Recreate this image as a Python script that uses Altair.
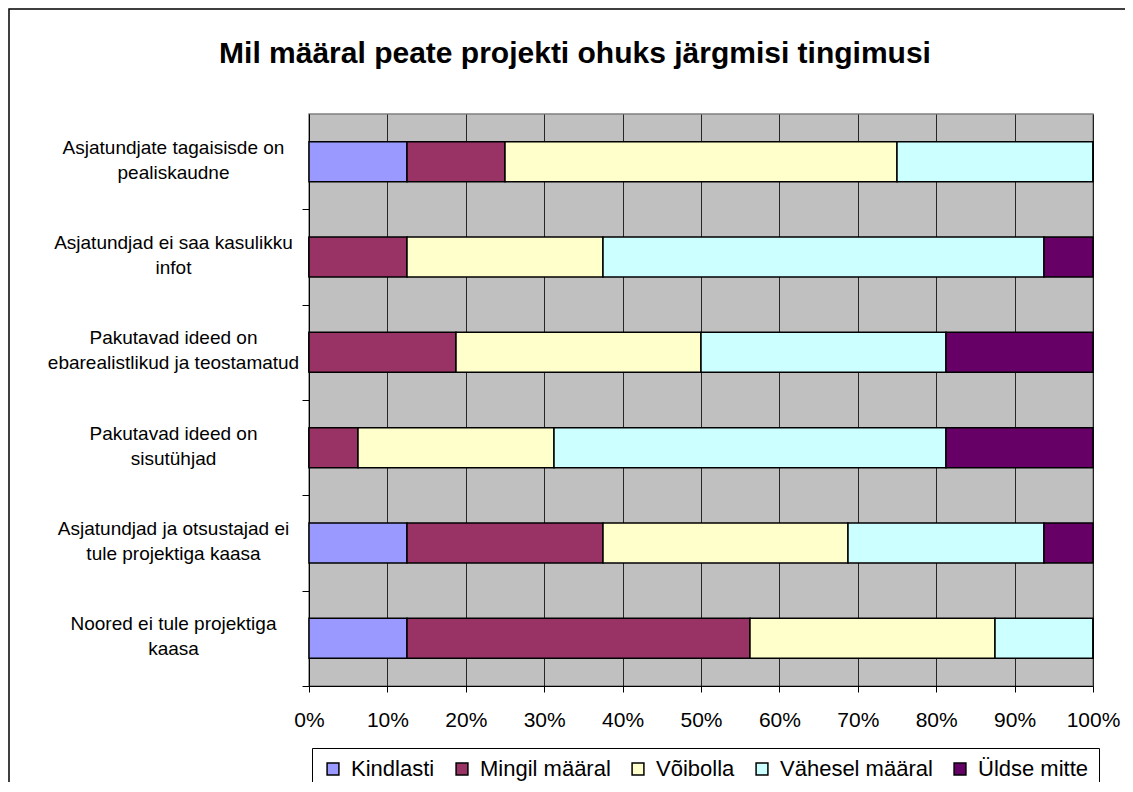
import altair as alt
import pandas as pd

title_text = "Mil määral peate projekti ohuks järgmisi tingimusi"
categories = [
    "Asjatundjate tagaisisde on\npealiskaudne",
    "Asjatundjad ei saa kasulikku\ninfot",
    "Pakutavad ideed on\nebarealistlikud ja teostamatud",
    "Pakutavad ideed on\nsisutühjad",
    "Asjatundjad ja otsustajad ei\ntule projektiga kaasa",
    "Noored ei tule projektiga\nkaasa",
]
series = ["Kindlasti", "Mingil määral", "Võibolla", "Vähesel määral", "Üldse mitte"]
colors = ["#9999FF", "#993366", "#FFFFCC", "#CCFFFF", "#660066"]

kindlasti = [2, 0, 0, 0, 2, 2]
mingil = [2, 2, 3, 1, 4, 7]
voibolla = [8, 4, 5, 4, 5, 5]
vahesel = [4, 9, 5, 8, 4, 2]
uldse = [0, 1, 3, 3, 1, 0]

values = [kindlasti, mingil, voibolla, vahesel, uldse]
rows = []
for si, (s, vals) in enumerate(zip(series, values)):
    for c, v in zip(categories, vals):
        rows.append({"kysimus": c, "vastus": s, "n": v, "jrk": si})
df = pd.DataFrame(rows)

W, H = 784, 572
STEP = H / len(categories)

bars = alt.Chart(df).mark_bar(stroke="black", strokeWidth=1.5).encode(
    y=alt.Y(
        "kysimus:N",
        sort=categories,
        title=None,
        scale=alt.Scale(paddingInner=0.58, paddingOuter=0.29),
        axis=alt.Axis(
            labelExpr="split(datum.label, '\\n')",
            labelAlign="center",
            labelBaseline="middle",
            labelOffset=-STEP / 2 - 14.5,
            labelPadding=129,
            labelFontSize=19,
            labelLineHeight=25,
            labelColor="black",
            labelFont="Liberation Sans",
            tickOffset=STEP / 2,
            tickSize=7,
            tickColor="black",
            domainColor="black",
            grid=False,
            labelLimit=400,
        ),
    ),
    x=alt.X(
        "n:Q",
        stack="normalize",
        title=None,
        scale=alt.Scale(domain=[0, 1], nice=False),
        axis=alt.Axis(
            format="%",
            values=[i / 10 for i in range(11)],
            labelFontSize=21,
            labelFont="Liberation Sans",
            labelColor="black",
            labelPadding=17,
            labelFlush=False,
            tickSize=6,
            tickColor="black",
            domainColor="black",
            grid=True,
            gridColor="#000000",
            gridWidth=1,
            gridOpacity=0.8,
        ),
    ),
    color=alt.Color(
        "vastus:N",
        sort=series,
        scale=alt.Scale(domain=series, range=colors),
        legend=alt.Legend(
            title=None,
            orient="none",
            legendX=3,
            legendY=634,
            direction="horizontal",
            strokeColor="black",
            fillColor="white",
            padding=10,
            symbolType="square",
            symbolSize=140,
            symbolStrokeColor="black",
            symbolStrokeWidth=1.5,
            symbolOpacity=1,
            labelFontSize=22,
            labelFont="Liberation Sans",
            labelColor="black",
            columnPadding=16,
            labelOffset=7,
        ),
    ),
    order=alt.Order("jrk:Q", sort="ascending"),
)

one = pd.DataFrame({"t": [title_text]})

frame = alt.Chart(one).mark_rect(
    fill="white", fillOpacity=0, stroke="black", strokeWidth=1.5
).encode(
    x=alt.value(-300), x2=alt.value(W + 60), y=alt.value(-105), y2=alt.value(H + 130)
)

title = alt.Chart(one).mark_text(
    fontSize=30, font="Liberation Sans", fontWeight="bold", color="black",
    align="center", baseline="alphabetic",
).encode(text="t:N", x=alt.value(266), y=alt.value(-51))

chart = alt.layer(frame, bars, title).properties(
    width=W,
    height=H,
    background="white",
    autosize=alt.AutoSizeParams(type="none"),
    padding={"left": 301, "top": 106, "right": 32, "bottom": 96},
).configure_view(
    fill="#C0C0C0", stroke="#808080", strokeWidth=1.5
)

chart.save("out.html", embed_options={"renderer": "svg", "actions": False})
